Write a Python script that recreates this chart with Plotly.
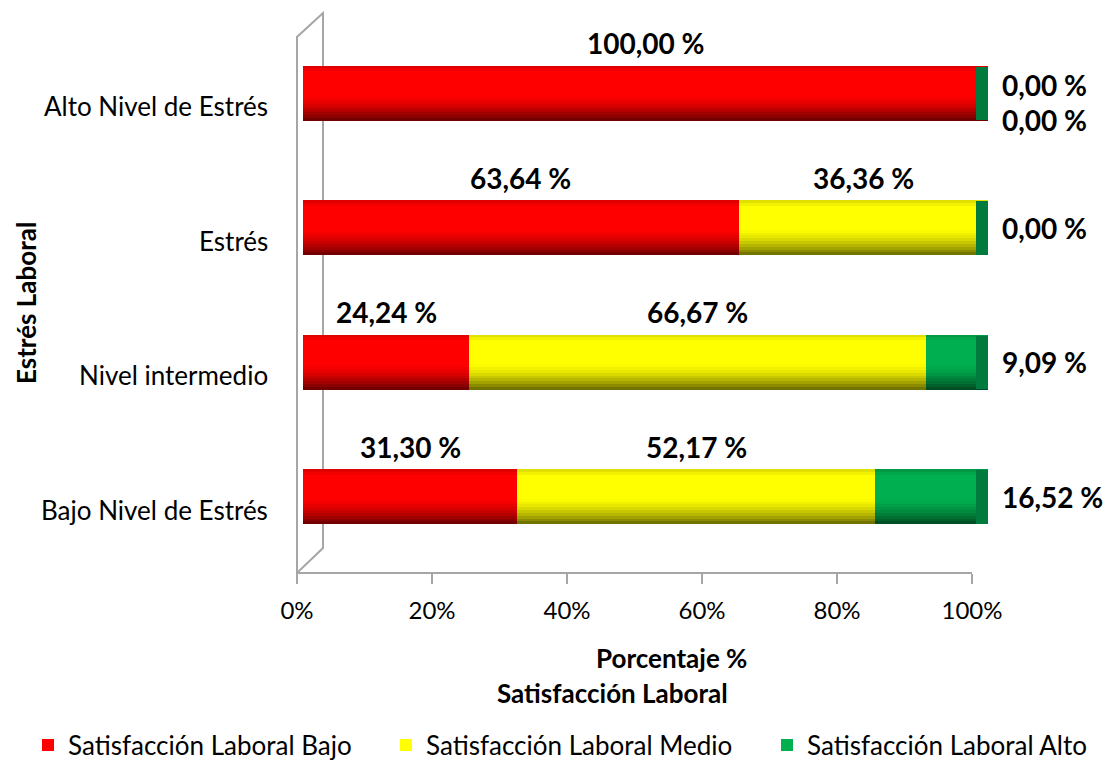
import numpy as np
import plotly.graph_objects as go

# categories listed bottom -> top (plotly draws first category at the bottom)
categorias = ["Bajo Nivel de Estrés", "Nivel intermedio", "Estrés", "Alto Nivel de Estrés"]
sat_bajo = [31.30, 24.24, 63.64, 100.00]
sat_medio = [52.17, 66.67, 36.36, 0.00]
sat_alto = [16.52, 9.09, 0.00, 0.00]
ticks_x = [0, 20, 40, 60, 80, 100]
ticks_txt = ["0%", "20%", "40%", "60%", "80%", "100%"]

series = [
    ("Satisfacción Laboral Bajo", sat_bajo, "#FF0000"),
    ("Satisfacción Laboral Medio", sat_medio, "#FFFF00"),
    ("Satisfacción Laboral Alto", sat_alto, "#00B050"),
]

FONT = "Lato, Carlito, Calibri, sans-serif"
# the page body has an 8px margin, so the figure sits at (8, 8) in the window
OFF = 8
W, H = 1118 - OFF, 760 - OFF
BAR_W = 0.41


def px(x):
    return (x - OFF) / W


def py(y):
    return 1 - (y - OFF) / H


fig = go.Figure()

legends = ["legend", "legend2", "legend3"]
base = np.zeros(len(categorias))
for (name, vals, color), lg in zip(series, legends):
    fig.add_trace(go.Bar(
        y=categorias, x=vals, base=base.copy(), name=name, orientation="h",
        marker=dict(color=color, line=dict(width=0)), width=BAR_W,
        hoverinfo="skip", legend=lg,
    ))
    base += np.array(vals)
totals = base.copy()

# cylinder shading: thin bands over the full bar, darker towards the bottom edge
n_bands = 9
band_h = 0.19 / n_bands
for k in range(n_bands):
    alpha = 0.55 * (1 - k / n_bands) ** 1.6
    fig.add_trace(go.Bar(
        y=categorias, x=totals, base=np.zeros(len(categorias)), orientation="h",
        offset=-BAR_W / 2 + k * band_h, width=band_h,
        marker=dict(color=f"rgba(0,0,0,{alpha:.3f})", line=dict(width=0)),
        showlegend=False, hoverinfo="skip",
    ))
for off, wd, col in [(BAR_W / 2 - 0.02, 0.02, "rgba(0,0,0,0.12)"),
                     (BAR_W / 2 - 0.04, 0.02, "rgba(0,0,0,0.05)")]:
    fig.add_trace(go.Bar(
        y=categorias, x=totals, base=np.zeros(len(categorias)), orientation="h",
        offset=off, width=wd, marker=dict(color=col, line=dict(width=0)),
        showlegend=False, hoverinfo="skip",
    ))

# dark green end cap of the cylinder
cap = 1.8
fig.add_trace(go.Bar(
    y=categorias, x=[cap] * len(categorias), base=totals - cap, orientation="h",
    width=BAR_W * 0.97, marker=dict(color="#007A3D", line=dict(width=0)),
    showlegend=False, hoverinfo="skip",
))

# invisible trace to carry the visible percentage axis
fig.add_trace(go.Scatter(
    x=[0, 100], y=[categorias[0], categorias[0]], xaxis="x2", mode="markers",
    marker=dict(opacity=0), showlegend=False, hoverinfo="skip",
))

# category labels (sit a little below the bar centre, as in the 3D chart)
for c in categorias:
    fig.add_annotation(x=px(270), y=c, xref="paper", yref="y", text=c, showarrow=False,
                       xanchor="right", yanchor="middle", yshift=-13,
                       font=dict(family=FONT, size=26, color="black"))

# data labels
label_font = dict(family=FONT, size=28, color="black")
start = np.zeros(len(categorias))
for si, (name, vals, color) in enumerate(series):
    for i, v in enumerate(vals):
        txt = f"{v:.2f}".replace(".", ",") + " %"
        if v > 0 and si < len(series) - 1:
            fig.add_annotation(x=start[i] + v / 2, y=categorias[i], text=f"<b>{txt}</b>",
                               showarrow=False, yshift=50, yanchor="middle",
                               font=label_font)
        else:
            shift = 0
            if si == 1:
                shift = 8
            elif sat_medio[i] == 0:
                shift = -27
            fig.add_annotation(x=totals[i], y=categorias[i], text=f"<b>{txt}</b>",
                               showarrow=False, xanchor="left", yanchor="middle",
                               xshift=12, yshift=shift, font=label_font)
    start += np.array(vals)

# axis titles
title_font = dict(family=FONT, size=26, color="black")
fig.add_annotation(x=px(671), y=py(658), xref="paper", yref="paper", showarrow=False,
                   xanchor="center", yanchor="middle",
                   text="<b>Porcentaje %</b>", font=title_font)
fig.add_annotation(x=px(612), y=py(693), xref="paper", yref="paper", showarrow=False,
                   xanchor="center", yanchor="middle",
                   text="<b>Satisfacción Laboral</b>", font=title_font)
fig.add_annotation(x=px(26), y=py(303), xref="paper", yref="paper", showarrow=False,
                   xanchor="center", yanchor="middle",
                   text="<b>Estrés Laboral</b>", textangle=-90,
                   font=dict(family=FONT, size=26, color="black"))

# 3D back wall outline
wall = [(297, 573), (297, 37), (323, 13), (323, 548)]
path = "M " + " L ".join(f"{px(x)},{py(y)}" for x, y in wall) + " Z"
fig.add_shape(type="path", path=path, xref="paper", yref="paper",
              line=dict(color="#A6A6A6", width=2), layer="below")

legend_style = dict(orientation="h", yanchor="middle", xanchor="left",
                    font=dict(family=FONT, size=26, color="black"),
                    itemwidth=30, bgcolor="rgba(0,0,0,0)")

fig.update_layout(
    width=W, height=H,
    margin=dict(l=0, r=0, t=0, b=0, autoexpand=False),
    barmode="overlay",
    paper_bgcolor="white", plot_bgcolor="rgba(0,0,0,0)",
    font=dict(family=FONT, color="black"),
    xaxis=dict(domain=[px(303), px(988)], range=[0, 100], visible=False,
               fixedrange=True, automargin=False),
    xaxis2=dict(domain=[px(297), px(972)], range=[0, 100], anchor="free", position=py(573),
                showline=True, linecolor="#A6A6A6", linewidth=2, automargin=False,
                ticks="outside", ticklen=10, tickcolor="#A6A6A6", tickwidth=2,
                ticklabelstandoff=6,
                tickvals=ticks_x, ticktext=ticks_txt, showgrid=False,
                zeroline=False, tickfont=dict(family=FONT, size=24, color="black")),
    yaxis=dict(domain=[py(564), py(26)], range=[-0.5, 3.5], type="category",
               categoryorder="array", categoryarray=categorias, automargin=False,
               showgrid=False, zeroline=False, showline=False, ticks="",
               showticklabels=False),
    legend=dict(x=px(28), y=py(745), **legend_style),
    legend2=dict(x=px(386), y=py(745), **legend_style),
    legend3=dict(x=px(767), y=py(745), **legend_style),
    bargap=0,
)

fig.write_html("out.html")
